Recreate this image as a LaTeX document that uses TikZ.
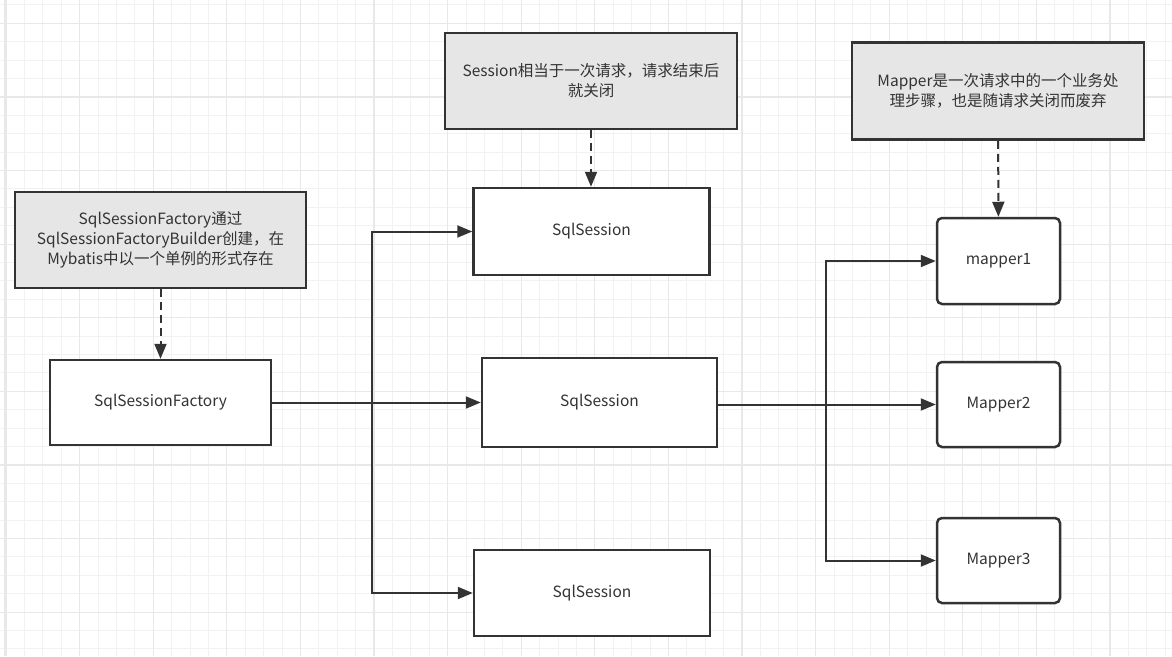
\documentclass[tikz,border=0pt]{standalone}
\usepackage{fontspec}
\setmainfont{Noto Sans CJK SC}
\usetikzlibrary{arrows.meta}
\definecolor{linedark}{HTML}{333333}
\definecolor{notefill}{HTML}{E6E6E6}
\definecolor{textgray}{HTML}{333333}
\definecolor{gridminor}{HTML}{F2F2F2}
\definecolor{gridmajor}{HTML}{E8E8E8}
\begin{document}
\begin{tikzpicture}[x=1pt, y=-1pt,
    box/.style={draw=linedark, line width=2.5pt, fill=white, inner sep=0pt,
        font=\fontsize{15.5}{20}\selectfont, text=textgray, align=center},
    notebox/.style={box, fill=notefill},
    mapperbox/.style={box, rounded corners=5pt},
    flow/.style={draw=linedark, line width=2pt, -{Triangle[length=15pt, width=12pt]}},
    noteflow/.style={flow, dash pattern=on 8pt off 5pt},
    minorgrid/.style={draw=gridminor, line width=1pt},
    majorgrid/.style={draw=gridmajor, line width=1.2pt}]
    \useasboundingbox (0,0) rectangle (1172,656);
    \fill[white] (0,0) rectangle (1172,656);

    % Grille
    \foreach \i in {0,...,63}
        \draw[minorgrid] ({6+18.4*\i},0) -- ({6+18.4*\i},656);
    \foreach \j in {0,...,35}
        \draw[minorgrid] (0,{4.9+18.4*\j}) -- (1172,{4.9+18.4*\j});
    \foreach \i in {0,...,15}
        \draw[majorgrid] ({6+73.6*\i},0) -- ({6+73.6*\i},656);
    \foreach \j in {0,...,8}
        \draw[majorgrid] (0,{23.3+73.6*\j}) -- (1172,{23.3+73.6*\j});
    \draw[draw=gridmajor, line width=2pt] (5,0) -- (5,656);

    % Note SqlSessionFactory
    \node[notebox, minimum width=291pt, minimum height=96pt] (factoryNote) at (160.5, 240) {
        SqlSessionFactory通过\\
        SqlSessionFactoryBuilder创建，在\\
        Mybatis中以一个单例的形式存在
    };

    % SqlSessionFactory
    \node[box, minimum width=221pt, minimum height=85pt] (factory) at (160.5, 402.5) {SqlSessionFactory};

    % Note Session
    \node[notebox, minimum width=292pt, minimum height=96pt] (sessionNote) at (591, 81) {
        Session相当于一次请求，请求结束后\\
        就关闭
    };

    % SqlSession
    \node[box, minimum width=236pt, minimum height=87pt] (session1) at (591.5, 231.5) {SqlSession};
    \node[box, minimum width=235pt, minimum height=89pt] (session2) at (599.5, 402.5) {SqlSession};
    \node[box, minimum width=236pt, minimum height=86pt] (session3) at (592, 593) {SqlSession};

    % Note Mapper
    \node[notebox, minimum width=292pt, minimum height=97pt] (mapperNote) at (998, 91) {
        Mapper是一次请求中的一个业务处\\
        理步骤，也是随请求关闭而废弃
    };

    % Mapper
    \node[mapperbox, minimum width=123pt, minimum height=86pt] (mapper1) at (998.5, 261) {mapper1};
    \node[mapperbox, minimum width=123pt, minimum height=85pt] (mapper2) at (998.5, 404.5) {Mapper2};
    \node[mapperbox, minimum width=123pt, minimum height=85pt] (mapper3) at (998.5, 560.5) {Mapper3};

    % Relations
    \coordinate (split1) at (372, 402.5);
    \coordinate (split2) at (826, 404.5);
    \draw[noteflow] (factoryNote) -- (factory);
    \draw[noteflow] (sessionNote) -- (sessionNote |- session1.north);
    \draw[noteflow] (mapperNote) -- (mapper1);
    \draw[flow] (factory.east) -- (session2.west);
    \draw[flow] (factory.east) -- (split1) |- (session1.west);
    \draw[flow] (factory.east) -- (split1) |- (session3.west);
    \draw[flow] (session2.east |- split2) -- (mapper2.west);
    \draw[flow] (session2.east |- split2) -- (split2) |- (mapper1.west);
    \draw[flow] (session2.east |- split2) -- (split2) |- (mapper3.west);

\end{tikzpicture}
\end{document}
